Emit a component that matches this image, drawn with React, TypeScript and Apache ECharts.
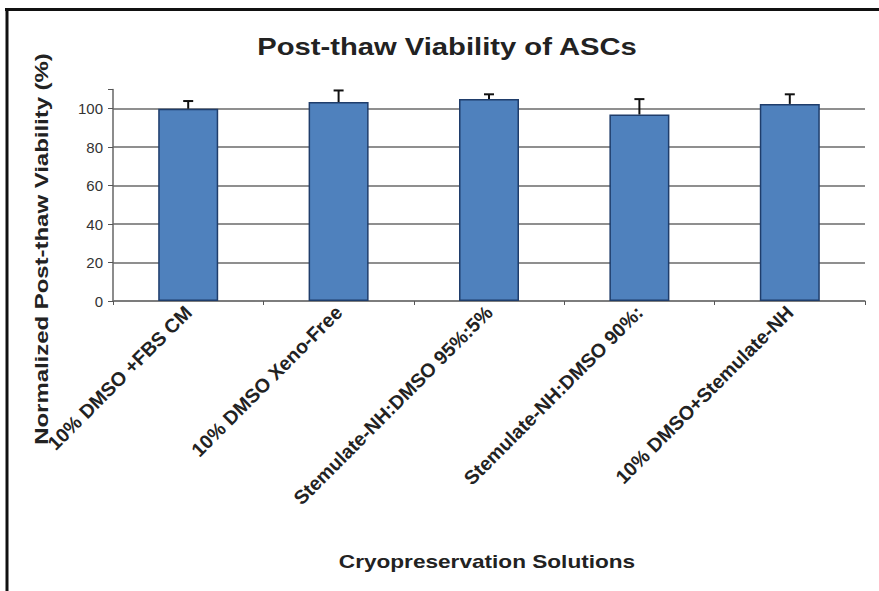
import React, { useEffect, useRef } from "react";
import * as echarts from "echarts";

const categories = [
  "10% DMSO +FBS CM",
  "10% DMSO Xeno-Free",
  "Stemulate-NH:DMSO 95%:5%",
  "Stemulate-NH:DMSO 90%:",
  "10% DMSO+Stemulate-NH",
];
const viability = [100, 103.5, 105, 97, 102.5];
const errors = [4, 6, 2.5, 8, 5];
const yTicks = [0, 20, 40, 60, 80, 100];

const titleText = "Post-thaw Viability of ASCs";
const yName = "Normalized Post-thaw Viability (%)";
const xName = "Cryopreservation Solutions";

export default function App() {
  const ref = useRef<HTMLDivElement>(null);
  useEffect(() => {
    if (!ref.current) return;
    const chart = echarts.init(ref.current, undefined, { renderer: "svg" });
    const errData = viability.map((v, i) => [i, v, v + errors[i]]);
    const gridColor = "#6a6a6a";
    chart.setOption({
      animation: false,
      backgroundColor: "#ffffff",
      grid: { left: 113, right: 14, top: 89.5, bottom: 290, containLabel: false },
      xAxis: {
        type: "category",
        data: categories,
        axisLine: { show: true, lineStyle: { color: "#777", width: 1.5 } },
        axisTick: { show: true, length: 4, lineStyle: { color: "#555" } },
        axisLabel: {
          rotate: 45,
          margin: 8,
          interval: 0,
          fontFamily: "Liberation Sans",
          fontWeight: "bold",
          fontSize: 19.5,
          color: "#222",
        },
      },
      yAxis: {
        type: "value",
        min: 0,
        max: 110,
        interval: 20,
        axisLine: { show: true, lineStyle: { color: "#666", width: 1.5 } },
        axisTick: { show: true, length: 5, lineStyle: { color: "#555" } },
        axisLabel: {
          formatter: (v: number) => (yTicks.indexOf(v) >= 0 ? String(v) : ""),
          fontFamily: "Liberation Sans",
          fontSize: 15,
          color: "#333",
          margin: 10,
        },
        splitLine: {
          show: true,
          lineStyle: {
            color: [gridColor, gridColor, gridColor, gridColor, gridColor, gridColor, "rgba(0,0,0,0)"],
            width: 1.5,
          },
        },
      },
      series: [
        {
          type: "bar",
          data: viability,
          barWidth: 60,
          itemStyle: { color: "#4F81BD", borderColor: "#1f3d6b", borderWidth: 1.5 },
          z: 2,
        },
        {
          type: "custom",
          data: errData,
          z: 3,
          clip: false,
          renderItem: (params: any, api: any) => {
            const x = api.value(0);
            const lo = api.coord([x, api.value(1)]);
            const hi = api.coord([x, api.value(2)]);
            const half = 5;
            return {
              type: "group",
              children: [
                {
                  type: "line",
                  shape: { x1: lo[0], y1: lo[1], x2: hi[0], y2: hi[1] },
                  style: { stroke: "#111", lineWidth: 2 },
                },
                {
                  type: "line",
                  shape: { x1: hi[0] - half, y1: hi[1], x2: hi[0] + half, y2: hi[1] },
                  style: { stroke: "#111", lineWidth: 2 },
                },
              ],
            };
          },
        },
      ],
      graphic: [
        {
          type: "line",
          shape: { x1: 5, y1: 9.5, x2: 879, y2: 9.5 },
          style: { stroke: "#111", lineWidth: 3 },
        },
        {
          type: "line",
          shape: { x1: 7, y1: 8, x2: 7, y2: 591 },
          style: { stroke: "#111", lineWidth: 3 },
        },
        {
          type: "text",
          x: 447,
          y: 47,
          scaleX: 1.27,
          style: {
            text: titleText,
            fontFamily: "Liberation Sans",
            fontWeight: "bold",
            fontSize: 23,
            fill: "#222",
            align: "center",
            verticalAlign: "middle",
          },
        },
        {
          type: "text",
          x: 42,
          y: 249,
          rotation: Math.PI / 2,
          scaleX: 1.33,
          style: {
            text: yName,
            fontFamily: "Liberation Sans",
            fontWeight: "bold",
            fontSize: 18,
            fill: "#222",
            align: "center",
            verticalAlign: "middle",
          },
        },
        {
          type: "text",
          x: 487,
          y: 561,
          scaleX: 1.19,
          style: {
            text: xName,
            fontFamily: "Liberation Sans",
            fontWeight: "bold",
            fontSize: 19,
            fill: "#222",
            align: "center",
            verticalAlign: "middle",
          },
        },
      ],
    });
    return () => chart.dispose();
  }, []);
  return (
    <div
      ref={ref}
      style={{ position: "fixed", left: 0, top: 0, width: 879, height: 591, background: "#fff" }}
    />
  );
}
